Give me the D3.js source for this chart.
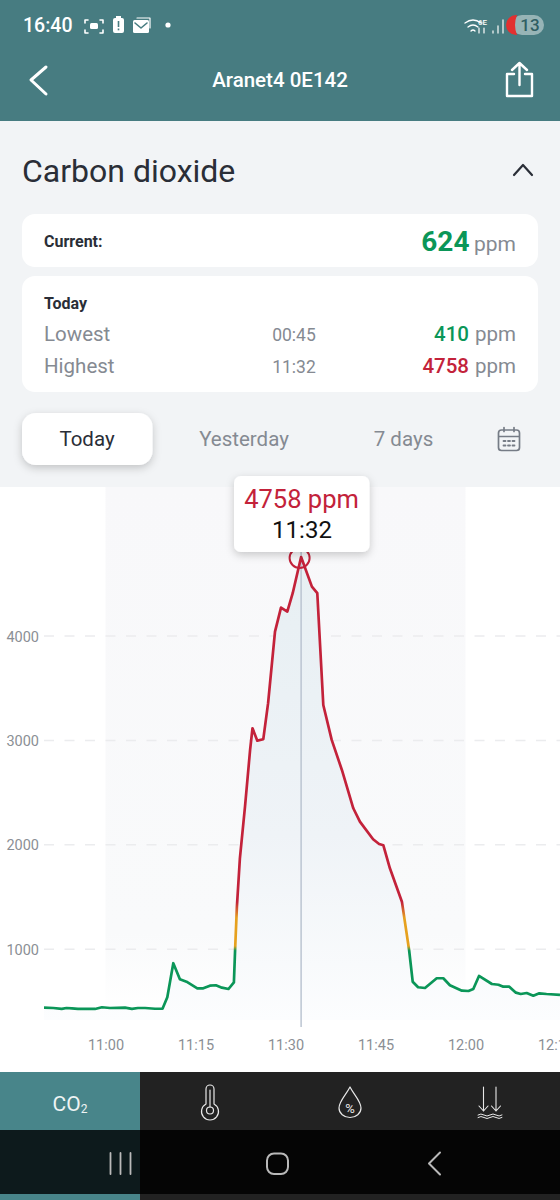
<!DOCTYPE html>
<html>
<head>
<meta charset="utf-8">
<script src="https://cdn.jsdelivr.net/npm/d3@7"></script>
<style>
  html, body { margin: 0; padding: 0; background: #f2f4f6; }
  svg { display: block; font-family: Roboto, sans-serif; }
</style>
</head>
<body>
<div id="chart"></div>
<script>
// minutes after 11:00
const minutes = [-10.25, -8.7, -7.3, -6.5, -5.6, -4.6, -1.75, -0.6, 0.75, 3.25, 4.4, 5.4, 6.6, 8.25, 9.5, 10.3, 11.3, 12.4, 13.5, 15.3, 16.3, 17.4, 18.4, 19.4, 20.5, 21.4, 21.6, 21.9, 22.4, 23.25, 24.1, 24.5, 25.3, 26.3, 27.1, 28.25, 29.25, 30.3, 31.2, 32.6, 34.4, 35.3, 36.3, 37.7, 39.4, 41.3, 42.4, 44.6, 45.6, 46.3, 47.4, 49.4, 50.6, 51.2, 52.1, 53.25, 55.2, 56.3, 57.4, 59.4, 60.5, 61.3, 62.25, 64.4, 65.5, 66.3, 67.3, 68.4, 69.2, 70.2, 71.3, 72.3, 73.5, 75.75];
const ppm = [439, 436, 427, 436, 433, 427, 427, 443, 436, 439, 427, 436, 436, 429, 429, 539, 865, 711, 688, 625, 625, 650, 654, 631, 618, 682, 992, 1407, 1871, 2366, 2909, 3117, 2998, 3012, 3357, 4043, 4273, 4235, 4411, 4758, 4474, 4411, 3340, 3005, 2717, 2350, 2222, 2053, 2008, 1996, 1775, 1455, 992, 688, 635, 628, 721, 721, 654, 602, 599, 618, 743, 666, 659, 640, 640, 583, 570, 580, 554, 577, 570, 561];
const xTicks = [0, 15, 30, 45, 60, 75];
const xTickLabels = ["11:00", "11:15", "11:30", "11:45", "12:00", "12:15"];
const yTicks = [1000, 2000, 3000, 4000];
const peakIndex = 39;
const peakLabel = "4758 ppm";
const peakTime = "11:32";
const tabs = ["Today", "Yesterday", "7 days"];

const teal = "#477c81";
const green = "#0b9658";
const amber = "#e6a11f";
const red = "#c3223a";
const grey = "#858a92";
const ink = "#2a2e37";

const svg = d3.select("#chart").append("svg").attr("width", 560).attr("height", 1200).attr("viewBox", [0, 0, 560, 1200]);
const defs = svg.append("defs");

const x = d3.scaleLinear().domain([-10.25, 75.75]).range([44, 560]);
const y = d3.scaleLinear().domain([0, 4758]).range([1053.5, 557]);

function rect(x0, y0, w, h, fill, r) {
  return svg.append("rect").attr("x", x0).attr("y", y0).attr("width", w).attr("height", h).attr("rx", r || 0).attr("fill", fill);
}
function label(str, x0, y0, size, fill, anchor, weight) {
  return svg.append("text").attr("x", x0).attr("y", y0).attr("font-size", size).attr("fill", fill)
    .attr("text-anchor", anchor || "start").attr("font-weight", weight || 400).text(str);
}
function stroke(d, color, width) {
  return svg.append("path").attr("d", d).attr("fill", "none").attr("stroke", color).attr("stroke-width", width)
    .attr("stroke-linecap", "round").attr("stroke-linejoin", "round");
}

const shadow = defs.append("filter").attr("id", "shadow").attr("x", "-20%").attr("y", "-20%").attr("width", "140%").attr("height", "150%");
shadow.append("feDropShadow").attr("dx", 0).attr("dy", 3).attr("stdDeviation", 4).attr("flood-color", "#000").attr("flood-opacity", 0.2);

// header
rect(0, 0, 560, 121, teal);
label("16:40", 23, 32, 19.5, "#fff", "start", 500);
stroke("M85 23v-3h3M100 20h3v3M103 30v3h-3M88 33h-3v-3", "#fff", 1.6);
rect(90, 23, 8, 6, "#fff", 1.5);
rect(113, 18, 11, 15, "#fff", 2);
rect(116, 16, 5, 2, "#fff");
rect(117.7, 21, 1.6, 6, teal);
rect(117.7, 28.5, 1.6, 1.8, teal);
rect(133, 20, 16, 13, "#fff", 1.5);
stroke("M135 23l6 5 6-5", teal, 1.6);
stroke("M137 18h13v10", "#fff", 1.2);
svg.append("circle").attr("cx", 168).attr("cy", 25).attr("r", 2.6).attr("fill", "#fff");
stroke("M465 23q8-6 16 0M468 27q5-4 10 0M471 31q2-2 4 0", "#fff", 1.3);
label("6E", 478, 25, 8, "#fff", "start", 500);
stroke("M479 28v5M484 28v5", "#fff", 1.2);
stroke("M493 33v-2M498 33v-7M503 33v-13", "#cfdcdc", 1.6);
rect(512, 15, 32, 20, "#97b4b6", 10);
svg.append("path").attr("d", "M518 15h-1a10 10 0 0 0 0 20h1q-4-10 0-20z").attr("transform", "translate(-1,0)").attr("fill", "#e33030");
label("13", 530, 31, 17, "#2f5f63", "middle", 500);

stroke("M46 67L31 80L46 94", "#fff", 3);
label("Aranet4 0E142", 280, 87, 20.5, "#fff", "middle", 500);
stroke("M514 74h-7v22h25v-22h-7M519.5 85v-22M512 70l7.500-7 7.500 7", "#fff", 2.4);

// summary
label("Carbon dioxide", 22, 182, 32, ink);
stroke("M514 175L523 165L532 175", ink, 2.2);

rect(22, 214, 516, 53, "#fff", 13);
label("Current:", 44, 247, 16, ink, "start", 700);
label("624", 469.500, 251, 28, green, "end", 700);
label("ppm", 516, 251, 21, grey, "end");

rect(22, 276, 516, 116, "#fff", 13);
label("Today", 44, 309, 16, ink, "start", 700);
label("Lowest", 44, 341, 20.5, grey);
label("00:45", 294, 341, 17.5, grey, "middle");
label("410", 469, 341, 20.5, green, "end", 500);
label("ppm", 516, 341, 20.5, grey, "end");
label("Highest", 44, 373, 20.5, grey);
label("11:32", 294, 373, 17.5, grey, "middle");
label("4758", 469, 373, 20.5, red, "end", 500);
label("ppm", 516, 373, 20.5, grey, "end");

// tabs
rect(22, 413, 130.500, 52, "#fff", 14).attr("filter", "url(#shadow)");
const tabX = [87, 244, 403.500];
tabs.forEach((t, i) => label(t, tabX[i], 446, 20.5, i === 0 ? ink : grey, "middle"));
svg.append("rect").attr("x", 498.500).attr("y", 430).attr("width", 21).attr("height", 20.500).attr("rx", 3)
  .attr("fill", "none").attr("stroke", "#767c86").attr("stroke-width", 1.7);
stroke("M499 436.500h20M504 427.500v4M514 427.500v4", "#767c86", 1.7);
stroke("M503.500 441h2M508 441h2M512.500 441h2M503.500 445.500h2M508 445.500h2M512.500 445.500h2", "#767c86", 1.8);

// chart panel
rect(0, 487, 560, 585, "#fff");

const bandGrad = defs.append("linearGradient").attr("id", "band").attr("x1", 0).attr("x2", 0).attr("y1", 0).attr("y2", 1);
bandGrad.append("stop").attr("offset", "0%").attr("stop-color", "#f8f8fa");
bandGrad.append("stop").attr("offset", "85%").attr("stop-color", "#f9fafb");
bandGrad.append("stop").attr("offset", "100%").attr("stop-color", "#fff");
rect(x(0), 487, x(60) - x(0), 525, "url(#band)");

const gridGroup = svg.append("g");
gridGroup.selectAll("line").data(yTicks).join("line")
  .attr("x1", 44).attr("x2", 560).attr("y1", (d) => y(d)).attr("y2", (d) => y(d))
  .attr("stroke", "#ebecee").attr("stroke-width", 1.5).attr("stroke-dasharray", "10 10.500");

const areaGrad = defs.append("linearGradient").attr("id", "areaFill").attr("gradientUnits", "userSpaceOnUse")
  .attr("x1", 0).attr("x2", 0).attr("y1", y(4758)).attr("y2", 1020);
areaGrad.append("stop").attr("offset", "0%").attr("stop-color", "#e7eff3");
areaGrad.append("stop").attr("offset", "60%").attr("stop-color", "#eff3f7");
areaGrad.append("stop").attr("offset", "100%").attr("stop-color", "#fcfdfe");

const points = minutes.map((m, i) => [m, ppm[i]]);
const area = d3.area().x((d) => x(d[0])).y0(1020).y1((d) => y(d[1]));
const line = d3.line().x((d) => x(d[0])).y((d) => y(d[1]));

svg.append("path").datum(points).attr("d", area).attr("fill", "url(#areaFill)");

// crosshair
svg.append("line").attr("x1", x(minutes[peakIndex])).attr("x2", x(minutes[peakIndex])).attr("y1", 552).attr("y2", 1027)
  .attr("stroke", "#b7c1cf").attr("stroke-width", 1.4);

// line colour changes with the ppm level
const lineGrad = defs.append("linearGradient").attr("id", "lineFill").attr("gradientUnits", "userSpaceOnUse")
  .attr("x1", 0).attr("x2", 0).attr("y1", y(0)).attr("y2", y(4758));
[[0, green], [985, green], [1030, amber], [1300, amber], [1450, red], [4758, red]].forEach(([v, c]) => {
  lineGrad.append("stop").attr("offset", v / 4758).attr("stop-color", c);
});
svg.append("path").datum(points).attr("d", line).attr("fill", "none").attr("stroke", "url(#lineFill)")
  .attr("stroke-width", 2.7).attr("stroke-linejoin", "round");

svg.append("circle").attr("cx", x(minutes[peakIndex]) - 1.5).attr("cy", y(ppm[peakIndex]) + 1).attr("r", 10)
  .attr("fill", "none").attr("stroke", red).attr("stroke-width", 2);

// axes
const xAxis = d3.axisBottom(x).tickValues(xTicks).tickFormat((d, i) => xTickLabels[i]).tickSize(0);
svg.append("g").attr("transform", "translate(0,1036)").call(xAxis)
  .call((g) => g.select(".domain").remove())
  .attr("font-family", null).attr("font-size", 14.5)
  .call((g) => g.selectAll("text").attr("fill", "#8b8f95").attr("y", 0).attr("dy", "0.95em"));
const yAxis = d3.axisLeft(y).tickValues(yTicks).tickSize(0).tickFormat(d3.format("d"));
svg.append("g").attr("transform", "translate(39,0)").call(yAxis)
  .call((g) => g.select(".domain").remove())
  .attr("font-family", null).attr("font-size", 14.5)
  .call((g) => g.selectAll("text").attr("fill", "#8b8f95").attr("x", 0).attr("dy", "0.34em"));

// tooltip
rect(234, 476, 135.500, 76, "#fff", 7).attr("filter", "url(#shadow)");
label(peakLabel, 301.500, 508, 25.5, red, "middle");
label(peakTime, 302, 538, 24, "#111", "middle");

// bottom tabs
rect(0, 1072, 560, 58, "#222222");
rect(0, 1072, 140, 58, "#48858a");
const co2 = label("CO", 52.500, 1111, 21, "#eef4f4");
co2.append("tspan").attr("font-size", 12).attr("dy", 2).text("2");

svg.append("path").attr("d", "M206 1104v-15a4 4 0 0 1 8 0v15a8.500 8.500 0 1 1-8 0z").attr("fill", "none").attr("stroke", "#e8e8e8").attr("stroke-width", 1.2);
svg.append("circle").attr("cx", 210).attr("cy", 1110.500).attr("r", 3.500).attr("fill", "none").attr("stroke", "#e8e8e8").attr("stroke-width", 1.2);
stroke("M210 1107v-17", "#e8e8e8", 1.2);

stroke("M350 1087c-4 8-11 14-11 21a11 9.500 0 0 0 22 0c0-7-7-13-11-21z", "#e8e8e8", 1.2);
label("%", 350, 1113, 13, "#e8e8e8", "middle");

stroke("M483.500 1087v24M479 1106l4.500 5 4.500-5M496 1087v24M491.500 1106l4.500 5 4.500-5", "#e8e8e8", 1.1);
stroke("M478 1115q3-2 6 0t6 0 6 0 6 0M478 1117.500q3-2 6 0t6 0 6 0 6 0", "#e8e8e8", 1);

// android nav bar
rect(0, 1130, 560, 64, "#050505");
rect(0, 1130, 140, 64, "#0d1a1c");
stroke("M110.500 1153v21M120.500 1153v21M130.500 1153v21", "#b9b9b9", 1.8);
svg.append("rect").attr("x", 267).attr("y", 1153.500).attr("width", 21).attr("height", 20.500).attr("rx", 7)
  .attr("fill", "none").attr("stroke", "#b9b9b9").attr("stroke-width", 2);
stroke("M440 1152.500L429 1163.500L440 1174.500", "#b9b9b9", 2);
rect(0, 1194, 560, 6, "#222222");
rect(0, 1194, 140, 6, "#48858a");
</script>
</body>
</html>
